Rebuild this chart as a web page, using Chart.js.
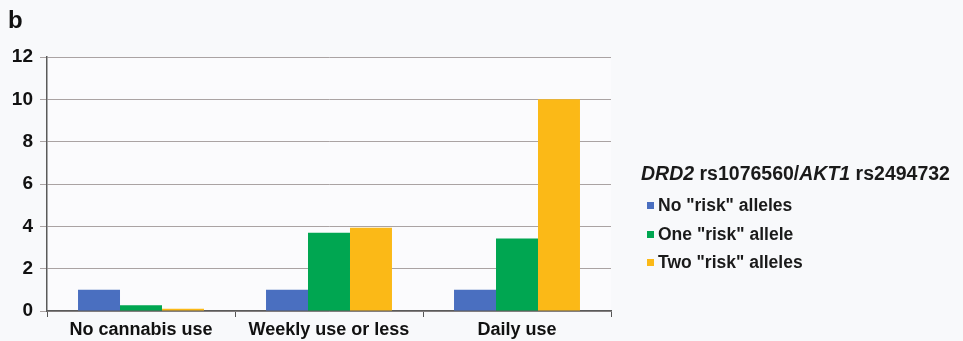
<!DOCTYPE html>
<html>
<head>
<meta charset="utf-8">
<script src="https://cdn.jsdelivr.net/npm/chart.js@4"></script>
<style>
  html, body { margin: 0; padding: 0; background: #f8f9fb; }
  #wrap { position: relative; width: 963px; height: 341px; overflow: hidden; font-family: "Liberation Sans", Arial, sans-serif; }
  #panel { position: absolute; left: 8px; top: 6px; font-weight: bold; font-size: 24px; color: #111; }
  #legend { position: absolute; left: 641px; top: 161px; color: #1a1a1a; }
  #legend .title { font-size: 19.5px; font-weight: bold; white-space: nowrap; line-height: 24px; }
  #legend .item { font-size: 17.5px; font-weight: bold; line-height: 28.5px; white-space: nowrap; position: relative; padding-left: 23px; }
  #legend .item .sw { position: absolute; left: -11px; top: 11px; width: 7px; height: 7px; }
  #legend .first { margin-top: 6px; }
  canvas { position: absolute; left: 0; top: 0; }
</style>
</head>
<body>
<div id="wrap">
  <canvas id="c" width="963" height="341"></canvas>
  <div id="panel">b</div>
  <div id="legend"></div>
</div>
<script>
const categories = ["No cannabis use", "Weekly use or less", "Daily use"];
const seriesNames = ['No "risk" alleles', 'One "risk" allele', 'Two "risk" alleles'];
const noRisk = [1.0, 1.0, 1.0];
const oneRisk = [0.27, 3.70, 3.43];
const twoRisk = [0.11, 3.93, 10.0];
const yTicks = [0, 2, 4, 6, 8, 10, 12];
const colors = ["#4a6fc0", "#00a651", "#fbb917"];
const legendTitleParts = [["DRD2", true], [" rs1076560/", false], ["AKT1", true], [" rs2494732", false]];

// HTML legend
const lg = document.getElementById("legend");
const t = document.createElement("div");
t.className = "title";
legendTitleParts.forEach(([txt, it]) => {
  const s = document.createElement("span");
  s.textContent = txt;
  if (it) s.style.fontStyle = "italic";
  t.appendChild(s);
});
lg.appendChild(t);
seriesNames.forEach((n, i) => {
  const d = document.createElement("div");
  d.className = "item" + (i === 0 ? " first" : "");
  d.style.paddingLeft = "0px";
  const sw = document.createElement("span");
  sw.className = "sw";
  sw.style.background = colors[i];
  d.appendChild(sw);
  d.appendChild(document.createTextNode(n));
  d.style.marginLeft = "17px";
  lg.appendChild(d);
});

const plotBg = {
  id: "plotBg",
  beforeDraw(chart) {
    const { ctx, chartArea: a } = chart;
    ctx.save();
    ctx.fillStyle = "#fbfbfd";
    ctx.fillRect(a.left, a.top, a.right - a.left, a.bottom - a.top);
    ctx.restore();
  }
};

new Chart(document.getElementById("c"), {
  type: "bar",
  data: {
    labels: categories,
    datasets: [
      { label: seriesNames[0], data: noRisk, backgroundColor: colors[0] },
      { label: seriesNames[1], data: oneRisk, backgroundColor: colors[1] },
      { label: seriesNames[2], data: twoRisk, backgroundColor: colors[2] }
    ]
  },
  options: {
    responsive: false,
    animation: false,
    events: [],
    layout: { padding: { left: 0, right: 352, top: 57, bottom: 0 } },
    datasets: { bar: { categoryPercentage: 0.67, barPercentage: 1.0 } },
    plugins: { legend: { display: false }, tooltip: { enabled: false } },
    scales: {
      x: {
        afterFit(s) { s.height = 30; },
        grid: { offset: true, drawOnChartArea: false, drawTicks: true, tickLength: 6, color: "#555", lineWidth: 1 },
        border: { color: "#5a5a5a", width: 1.5 },
        ticks: { color: "#111", font: { family: "Liberation Sans", size: 18, weight: "bold" }, padding: 2 }
      },
      y: {
        min: 0, max: 12,
        afterFit(s) { s.width = 47; },
        afterBuildTicks(s) { s.ticks = yTicks.map(v => ({ value: v })); },
        grid: { color: "#aaa3a3", lineWidth: 1, tickLength: 7, drawTicks: true },
        border: { color: "#5a5a5a", width: 1.5 },
        ticks: { color: "#111", font: { family: "Liberation Sans", size: 19, weight: "bold" }, padding: 7 }
      }
    }
  },
  plugins: [plotBg]
});
</script>
</body>
</html>
